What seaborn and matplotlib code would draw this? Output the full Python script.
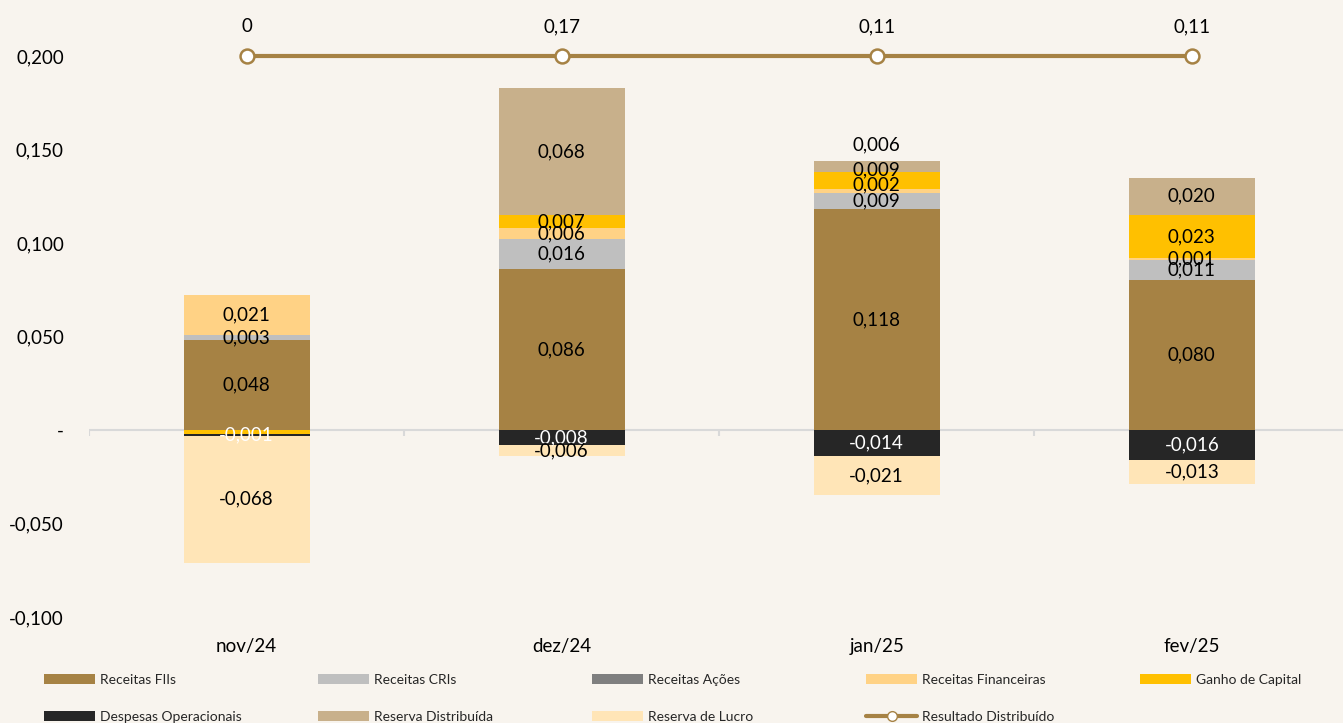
import numpy as np
import matplotlib
matplotlib.use("Agg")
import matplotlib.pyplot as plt
import seaborn as sns
from matplotlib.patches import Patch
from matplotlib.lines import Line2D

# data
months = ["nov/24", "dez/24", "jan/25", "fev/25"]
receitas_fiis = [0.048, 0.086, 0.118, 0.080]
receitas_cris = [0.003, 0.016, 0.009, 0.011]
receitas_acoes = [0.0, 0.0, 0.0, 0.0]
receitas_financeiras = [0.021, 0.006, 0.002, 0.001]
ganho_capital = [-0.002, 0.007, 0.009, 0.023]
despesas_operacionais = [-0.001, -0.008, -0.014, -0.016]
reserva_distribuida = [0.0, 0.068, 0.006, 0.020]
reserva_lucro = [-0.068, -0.006, -0.021, -0.013]
resultado_distribuido = [0, 0.17, 0.11, 0.11]

series = [
    ("Receitas FIIs", receitas_fiis, "#A68244", "black"),
    ("Receitas CRIs", receitas_cris, "#BFBFBF", "black"),
    ("Receitas Ações", receitas_acoes, "#7F7F7F", "black"),
    ("Receitas Financeiras", receitas_financeiras, "#FFD285", "black"),
    ("Ganho de Capital", ganho_capital, "#FFC000", "black"),
    ("Despesas Operacionais", despesas_operacionais, "#262626", "white"),
    ("Reserva Distribuída", reserva_distribuida, "#C8B08B", "black"),
    ("Reserva de Lucro", reserva_lucro, "#FFE5B7", "black"),
]
line_color = "#A68244"
line_level = 0.2  # the result line is drawn flat along the top of the chart
hidden_labels = {("nov/24", "Ganho de Capital")}
label_shift = {("jan/25", "Reserva Distribuída"): 0.0114,
               ("jan/25", "Ganho de Capital"): 0.0055,
               ("jan/25", "Receitas Financeiras"): 0.003}

bg = "#F8F4EE"
sns.set_theme(style="white")
plt.rcParams["font.family"] = ["Lato", "DejaVu Sans"]

W, H = 1343, 723
fig = plt.figure(figsize=(W / 100, H / 100), dpi=100, facecolor=bg)
ax = fig.add_axes([89 / W, 103 / H, 1254 / W, 600 / H])
ax.set_facecolor(bg)

pos_base = np.zeros(len(months))
neg_base = np.zeros(len(months))
for name, vals, color, txt_color in series:
    vals = np.array(vals, dtype=float)
    bottom = np.where(vals >= 0, pos_base, neg_base)
    sns.barplot(x=months, y=vals, bottom=bottom, color=color, saturation=1,
                width=0.4, errorbar=None, linewidth=0, ax=ax)
    for i, v in enumerate(vals):
        if v == 0 or (months[i], name) in hidden_labels:
            continue
        yc = bottom[i] + v / 2 + label_shift.get((months[i], name), 0)
        ax.text(i, yc, f"{v:.3f}".replace(".", ","), ha="center", va="center",
                fontsize=13.5, color=txt_color)
    pos_base = pos_base + np.where(vals >= 0, vals, 0)
    neg_base = neg_base + np.where(vals < 0, vals, 0)

# resultado distribuido line
xs = np.arange(len(months))
ax.plot(xs, np.full(len(months), line_level), color=line_color, lw=3,
        marker="o", markersize=10, markerfacecolor="white",
        markeredgecolor=line_color, markeredgewidth=1.8, zorder=5)
for i, v in enumerate(resultado_distribuido):
    label = "0" if v == 0 else f"{v:.2f}".replace(".", ",")
    ax.annotate(label, (i, line_level), xytext=(0, 21), textcoords="offset points",
                ha="center", va="center", fontsize=13.5, color="black")

# axes styling
ax.set_xlim(-0.5, 3.48)
ax.set_ylim(-0.1016, 0.2193)
ax.axhline(0, color="#D9D9D9", lw=1.5, zorder=0)
ax.vlines(np.arange(len(months) + 1) - 0.5, -0.003, 0, color="#D9D9D9", lw=1.5, zorder=0)
for s in ax.spines.values():
    s.set_visible(False)

yt = np.arange(-0.1, 0.2001, 0.05)
ax.set_yticks(yt)
ax.set_yticklabels(["-" if abs(v) < 1e-9 else f"{v:.3f}".replace(".", ",") for v in yt])
ax.tick_params(axis="y", length=0, pad=18, labelsize=13.5, labelcolor="black")
ax.tick_params(axis="x", length=0, pad=13, labelsize=13.5, labelcolor="black")
ax.set_xlabel("")
ax.set_ylabel("")
ax.grid(False)

# legend, laid out on an even grid like the original
handles = [Patch(facecolor=c, edgecolor="none") for _, _, c, _ in series]
names = [n for n, _, _, _ in series]
handles.append(Line2D([0], [0], color=line_color, lw=3, marker="o", markersize=7,
                      markerfacecolor="white", markeredgecolor=line_color))
names.append("Resultado Distribuído")
col_x = [44, 318, 592, 866, 1140]
row_y = [680, 717]
for k, (h, n) in enumerate(zip(handles, names)):
    x = col_x[k % 5]
    y = row_y[k // 5]
    fig.legend([h], [n], loc="center left", bbox_to_anchor=(x / W, 1 - y / H),
               frameon=False, fontsize=10, handlelength=3.7, handleheight=0.65,
               handletextpad=0.3, borderpad=0, borderaxespad=0)

fig.savefig("out.png", dpi=100, facecolor=bg)
